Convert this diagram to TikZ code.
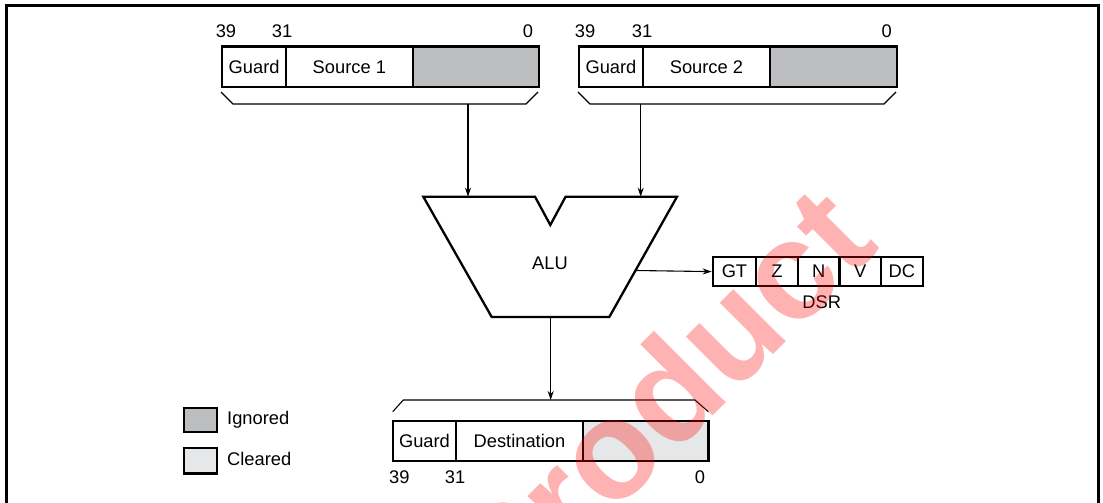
\documentclass[tikz,border=0pt]{standalone}
\usepackage{fontspec}
\setmainfont{Liberation Sans}
\usetikzlibrary{arrows.meta}
\definecolor{ignoredgray}{RGB}{188,189,190}
\definecolor{clearedgray}{RGB}{230,231,232}
\begin{document}
\begin{tikzpicture}[x=1pt,y=-1pt,
  txt/.style={font=\fontsize{18.3}{20}\selectfont, inner sep=0pt},
  cell/.style={draw, line width=2.2pt, inner sep=0pt, anchor=north west, font=\fontsize{18.3}{20}\selectfont},
  thin/.style={line width=1.1pt},
  arr/.style={line width=1.1pt, -{Stealth[length=9pt,width=6pt]}},
  alu/.style={line width=2.3pt, line join=miter}
]
\useasboundingbox (0,0) rectangle (1103,503);
\clip (0,0) rectangle (1103,503);
% frame
\draw[line width=2.5pt] (6.5,503) -- (6.5,5.5) -- (1098.5,5.5) -- (1098.5,503);

% Source 1 register
\node[cell, minimum width=64, minimum height=40.5] (g1) at (221,45.5) {Guard};
\node[cell, minimum width=126.5, minimum height=40.5] (s1) at (285,45.5) {Source 1};
\node[cell, fill=ignoredgray, minimum width=126.5, minimum height=40.5] (i1) at (411.5,45.5) {};
\node[txt] (l391) at (226,31.5) {39};
\node[txt] (l311) at (282,31.5) {31};
\node[txt] (l01) at (528,31.5) {0};
\coordinate (b1a) at (221,92);
\coordinate (b1b) at (233,104);
\coordinate (b1c) at (468,104);
\coordinate (b1d) at (526,104);
\coordinate (b1e) at (538,92);
\draw[thin] (b1a) -- (b1b) -- (b1d) -- (b1e);

% Source 2 register
\node[cell, minimum width=63.7, minimum height=40.5] (g2) at (578,45.5) {Guard};
\node[cell, minimum width=127.3, minimum height=40.5] (s2) at (641.7,45.5) {Source 2};
\node[cell, fill=ignoredgray, minimum width=127, minimum height=40.5] (i2) at (769,45.5) {};
\node[txt] (l392) at (585,31.5) {39};
\node[txt] (l312) at (642,31.5) {31};
\node[txt] (l02) at (886.7,31.5) {0};
\coordinate (b2a) at (578,92);
\coordinate (b2b) at (590,104);
\coordinate (b2c) at (640.7,104);
\coordinate (b2d) at (884,104);
\coordinate (b2e) at (896,92);
\draw[thin] (b2a) -- (b2b) -- (b2d) -- (b2e);

% ALU
\coordinate (atl) at (423.3,196.7);
\coordinate (an1) at (535,196.7);
\coordinate (anb) at (550.3,225);
\coordinate (an2) at (565.6,196.7);
\coordinate (atr) at (677,196.7);
\coordinate (abr) at (609.3,317);
\coordinate (abl) at (491.7,317);
\draw[alu] (atl) -- (an1) -- (anb) -- (an2) -- (atr) -- (abr) -- (abl) -- cycle;
\node[txt] (alu) at (550,263) {ALU};
\coordinate (in1) at (468,196.7);
\coordinate (in2) at (640.7,196.7);
\draw[arr] (b1c) -- (in1);
\draw[arr] (b2c) -- (in2);

% DSR
\node[cell, minimum width=43.3, minimum height=29] (gt) at (711.7,256) {GT};
\node[cell, minimum width=41.7, minimum height=29] (z) at (755,256) {Z};
\node[cell, minimum width=41.6, minimum height=29] (n) at (796.7,256) {N};
\node[cell, minimum width=41.7, minimum height=29] (v) at (838.3,256) {V};
\node[cell, minimum width=41.7, minimum height=29] (dc) at (880,256) {DC};
\node[txt] (dsr) at (821.7,302.5) {DSR};
\coordinate (aluout) at (636,270.5);
\draw[arr] (aluout) -- (gt.west);

% Destination register
\coordinate (aludown) at (550.7,317);
\coordinate (b3a) at (392.7,411.7);
\coordinate (b3b) at (403.3,400);
\coordinate (b3c) at (550.7,400);
\coordinate (b3d) at (695,400);
\coordinate (b3e) at (708.3,411.7);
\draw[thin] (b3a) -- (b3b) -- (b3d) -- (b3e);
\draw[arr] (aludown) -- (b3c);
\node[cell, minimum width=63.3, minimum height=40] (g3) at (391.7,420) {Guard};
\node[cell, minimum width=126.7, minimum height=40] (d3) at (455,420) {Destination};
\node[cell, fill=clearedgray, minimum width=125.6, minimum height=40] (c3) at (581.7,420) {};
\node[txt] (l393) at (399.3,477.5) {39};
\node[txt] (l313) at (455,477.5) {31};
\node[txt] (l03) at (700,477.5) {0};

% Legend
\node[cell, fill=ignoredgray, minimum width=33.3, minimum height=24.3] (kig) at (182.7,406.7) {};
\node[txt, anchor=west] (tig) at (227,420) {Ignored};
\node[cell, fill=clearedgray, minimum width=33.3, minimum height=25.6] (kcl) at (182.7,446.7) {};
\node[txt, anchor=west] (tcl) at (227,459) {Cleared};

% watermark
\node[red, opacity=0.3, font=\bfseries\fontsize{140}{150}\selectfont, rotate=45, inner sep=0pt] (wm) at (659,399) {Product};
\end{tikzpicture}
\end{document}
